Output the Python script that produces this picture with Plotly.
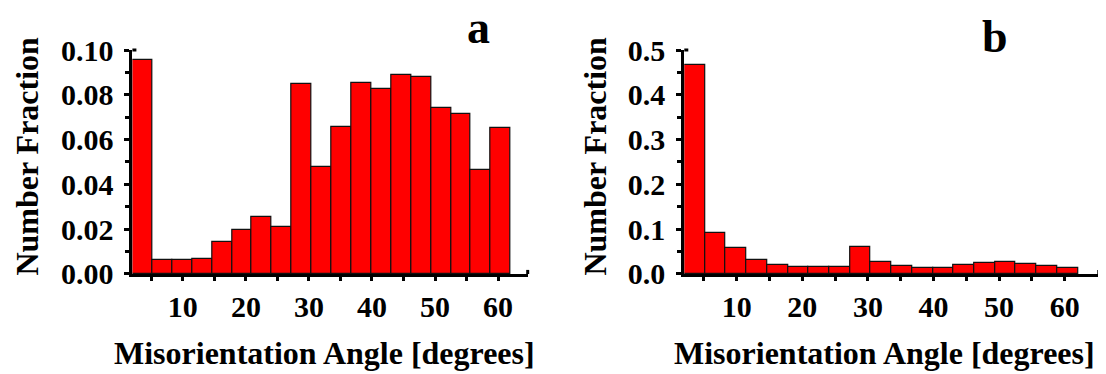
import numpy as np
import plotly.graph_objects as go

# ---- data ----
angle_min, angle_max, n_bins = 2.0, 62.0, 19
frac_a = [0.0954, 0.0061, 0.0061, 0.0066, 0.0141, 0.0194, 0.0256, 0.0210, 0.0846, 0.0476,
          0.0656, 0.0854, 0.0827, 0.0890, 0.0878, 0.0743, 0.0714, 0.0463, 0.0650]
frac_b = [0.467, 0.091, 0.057, 0.032, 0.0195, 0.016, 0.016, 0.016, 0.059, 0.027,
          0.017, 0.0136, 0.0136, 0.020, 0.0235, 0.026, 0.0225, 0.0175, 0.0136]
x_tick_vals = [5, 10, 15, 20, 25, 30, 35, 40, 45, 50, 55, 60]
x_tick_text = ["", "10", "", "20", "", "30", "", "40", "", "50", "", "60"]
panel_labels = ["a", "b"]
x_title = "Misorientation Angle [degrees]"
y_title = "Number Fraction"

edges = np.linspace(angle_min, angle_max, n_bins + 1)
centers = (edges[:-1] + edges[1:]) / 2
width = edges[1] - edges[0]

W, H = 1106, 374
FONT = "Liberation Serif"

fig = go.Figure()
bar_style = dict(marker=dict(color="#ff0000", line=dict(color="#111111", width=1.2)), showlegend=False)
fig.add_trace(go.Bar(x=centers, y=frac_a, width=width, xaxis="x", yaxis="y", **bar_style))
fig.add_trace(go.Bar(x=centers, y=frac_b, width=width, xaxis="x2", yaxis="y2", **bar_style))

tickfont = dict(family=FONT, size=30, color="black", weight="bold")
common_x = dict(tickvals=x_tick_vals, ticktext=x_tick_text, ticks="outside", ticklen=4, tickwidth=3,
                tickcolor="black", showline=True, linewidth=3, linecolor="black", showgrid=False,
                zeroline=False, tickfont=tickfont, ticklabelstandoff=0)
common_y = dict(ticks="outside", ticklen=5, tickwidth=3, tickcolor="black", showline=True, linewidth=3,
                linecolor="black", showgrid=False, zeroline=False, tickfont=tickfont, tick0=0,
                ticklabelstandoff=5)

yd = [(H - 273.3) / H, (H - 28.5) / H]
fig.update_layout(
    width=W, height=H, margin=dict(l=0, r=0, t=0, b=0),
    plot_bgcolor="white", paper_bgcolor="white", bargap=0,
    xaxis=dict(domain=[124.4 / W, 519.7 / W], range=[2, 64.7], anchor="y", **common_x),
    yaxis=dict(domain=yd, range=[0, 0.1], anchor="x", dtick=0.02, tickformat=".2f",
               minor=dict(dtick=0.01, ticks="outside", ticklen=4, tickwidth=3, tickcolor="black"),
               **common_y),
    xaxis2=dict(domain=[676.3 / W, 1090.8 / W], range=[2, 65.2], anchor="y2", **common_x),
    yaxis2=dict(domain=yd, range=[0, 0.5], anchor="x2", dtick=0.1, tickformat=".1f",
                minor=dict(dtick=0.05, ticks="outside", ticklen=4, tickwidth=3, tickcolor="black"),
                **common_y),
)

title_font = dict(family=FONT, size=32, color="black", weight="bold")
ann = []
for xc in [19, 587]:
    ann.append(dict(text=y_title, x=xc / W, y=(H - 145) / H, xref="paper", yref="paper",
                    textangle=-90, showarrow=False, font=title_font, xanchor="center", yanchor="middle"))
for xc in [316, 876]:
    ann.append(dict(text=x_title, x=xc / W, y=(H - 360) / H, xref="paper", yref="paper",
                    showarrow=False, font=title_font, xanchor="center", yanchor="middle"))
for lab, xc, yc in [(panel_labels[0], 470, 4), (panel_labels[1], 987, 14)]:
    ann.append(dict(text=lab, x=xc / W, y=(H - yc) / H, xref="paper", yref="paper", showarrow=False,
                    font=dict(family=FONT, size=46, color="black", weight="bold"),
                    xanchor="center", yanchor="middle", borderpad=0))
fig.update_layout(annotations=ann)

# axis end markers
shapes = []
for xr, yr in [("x", "y"), ("x2", "y2")]:
    shapes.append(dict(type="line", xref=xr + " domain", x0=1, x1=1, yref=yr, ysizemode="pixel",
                       yanchor=0, y0=-5, y1=4, line=dict(color="black", width=3)))
    shapes.append(dict(type="line", yref=yr + " domain", y0=1, y1=1, xref=xr, xsizemode="pixel",
                       xanchor=2, x0=-5, x1=4, line=dict(color="black", width=3)))
fig.update_layout(shapes=shapes)

fig.write_html("out.html")
